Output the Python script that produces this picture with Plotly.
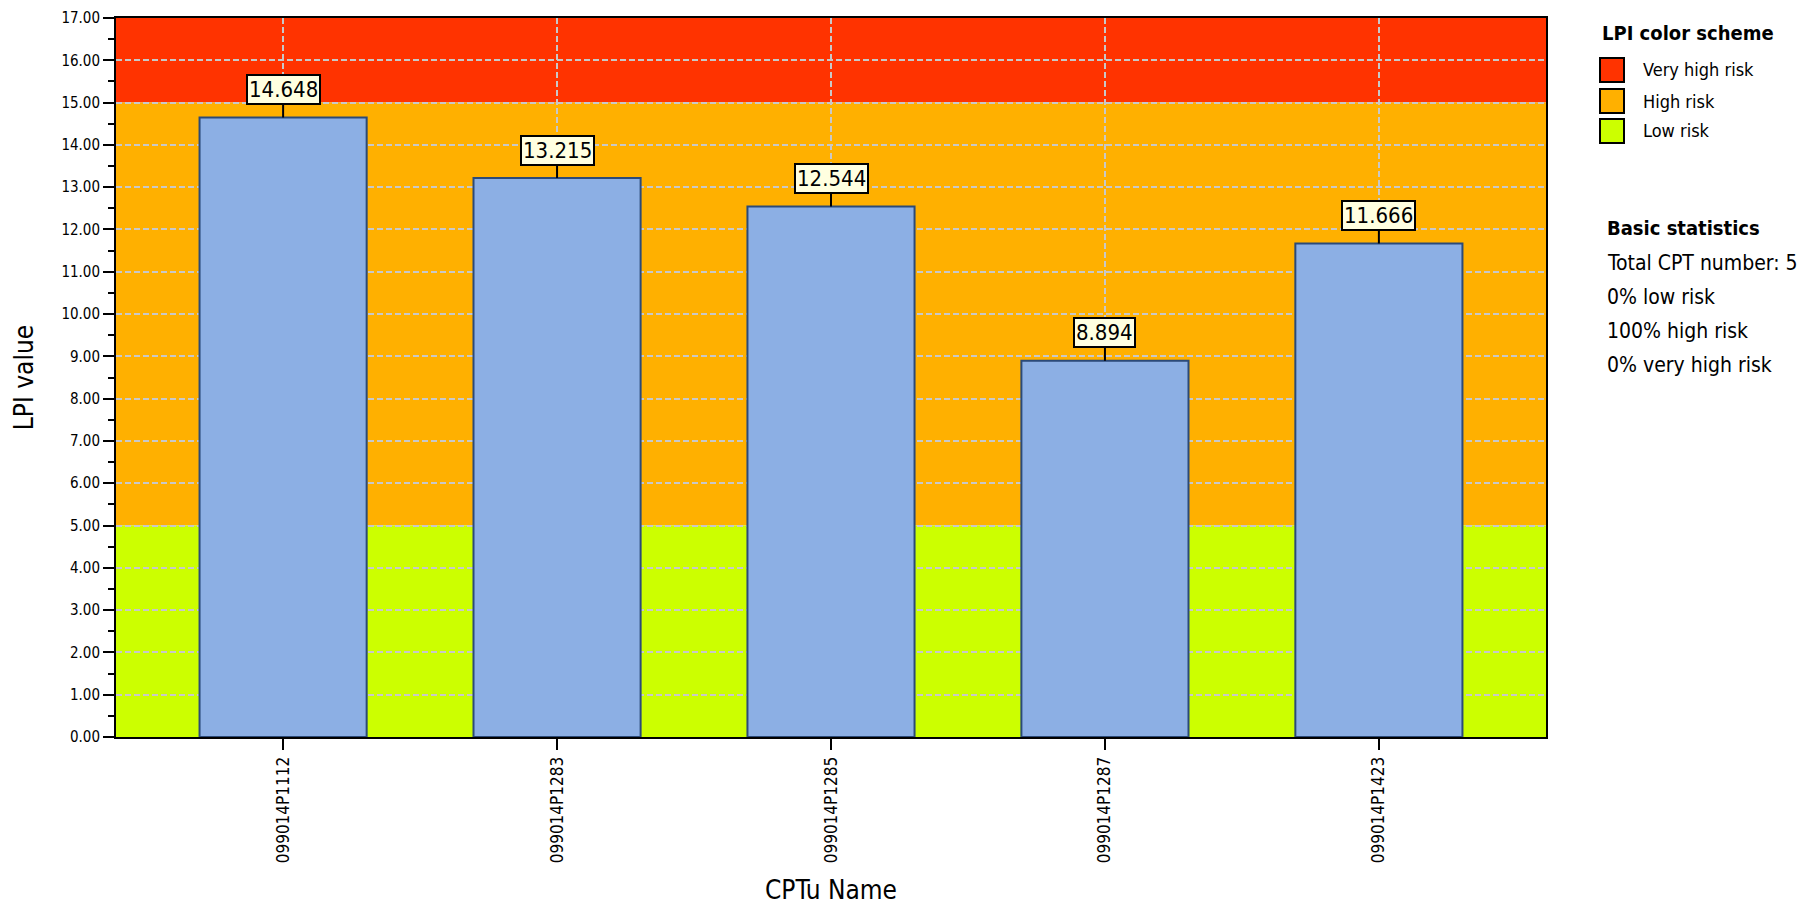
import plotly.graph_objects as go

# ---------------- data ----------------
cpt_names = ["099014P1112", "099014P1283", "099014P1285", "099014P1287", "099014P1423"]
lpi_values = [14.648, 13.215, 12.544, 8.894, 11.666]

zone_labels = ["Very high risk", "High risk", "Low risk"]
zone_colors = ["#ff3300", "#ffb000", "#ccff00"]
zone_lower = [15, 5, 0]
zone_upper = [17, 15, 5]

stats_title = "Basic statistics"
stats_lines = ["Total CPT number: 5", "0% low risk", "100% high risk", "0% very high risk"]
legend_title = "LPI color scheme"

y_range = [0, 17]

# ---------------- layout geometry (page pixels) ----------------
OFF = 8                      # default body margin of the html page
W, H = 1820 - OFF, 912 - OFF
PL, PR, PT, PB = 116, 1546, 18, 737   # plot area in page pixels
FONT = "DejaVu Sans Condensed, Liberation Sans, sans-serif"


def px_x(px):
    return (px - PL) / (PR - PL)


def px_y(py):
    return (PB - py) / (PB - PT)


fig = go.Figure()

fig.add_trace(go.Bar(
    x=cpt_names, y=lpi_values, width=0.61,
    marker=dict(color="#8cafe4", line=dict(color="#2b4a78", width=2)),
    showlegend=False, hoverinfo="x+y",
))

shapes = []
for lo, hi, col in zip(zone_lower, zone_upper, zone_colors):
    shapes.append(dict(type="rect", xref="paper", yref="y", x0=0, x1=1, y0=lo, y1=hi,
                       fillcolor=col, line=dict(width=0), layer="below"))

annotations = []
for name, v in zip(cpt_names, lpi_values):
    annotations.append(dict(
        x=name, y=v, xref="x", yref="y", text=f"{v:.3f}",
        showarrow=True, arrowhead=0, arrowwidth=2, arrowcolor="black", standoff=0,
        ax=0, ay=-28,
        font=dict(family=FONT, size=22, color="black"),
        bgcolor="#ffffe0", bordercolor="black", borderwidth=2, borderpad=1,
    ))

annotations.append(dict(xref="paper", yref="paper", x=px_x(1600), y=px_y(33),
                        xanchor="left", yanchor="middle", showarrow=False,
                        text=f"<b>{legend_title}</b>",
                        font=dict(family=FONT, size=20, color="black")))
item_y = [70, 101, 131]
for lab, col, yy in zip(zone_labels, zone_colors, item_y):
    shapes.append(dict(type="rect", xref="paper", yref="paper",
                       x0=px_x(1600), x1=px_x(1624), y0=px_y(yy + 12), y1=px_y(yy - 12),
                       fillcolor=col, line=dict(color="black", width=2)))
    annotations.append(dict(xref="paper", yref="paper", x=px_x(1641), y=px_y(yy),
                            xanchor="left", yanchor="middle", showarrow=False, text=lab,
                            font=dict(family=FONT, size=18, color="black")))

annotations.append(dict(xref="paper", yref="paper", x=px_x(1605), y=px_y(228),
                        xanchor="left", yanchor="middle", showarrow=False,
                        text=f"<b>{stats_title}</b>",
                        font=dict(family=FONT, size=20, color="black")))
for i, line in enumerate(stats_lines):
    annotations.append(dict(xref="paper", yref="paper", x=px_x(1605), y=px_y(263 + 34 * i),
                            xanchor="left", yanchor="middle", showarrow=False, text=line,
                            font=dict(family=FONT, size=21, color="black")))

grid_dash = "6px,3px"
fig.update_layout(
    width=W, height=H,
    margin=dict(l=PL - OFF, r=W - (PR - OFF), t=PT - OFF, b=H - (PB - OFF), autoexpand=False),
    paper_bgcolor="white", plot_bgcolor="white",
    font=dict(family=FONT, color="black"),
    shapes=shapes, annotations=annotations,
    xaxis=dict(
        type="category", range=[-0.61, 4.61],
        showline=True, linecolor="black", linewidth=2, mirror=True,
        ticks="outside", ticklen=11, tickwidth=2, tickcolor="black",
        tickangle=-90, tickfont=dict(family=FONT, size=17),
        ticklabeloverflow="allow",
        showgrid=True, gridcolor="#c8c8c8", gridwidth=2, griddash=grid_dash,
        title=dict(text="CPTu Name", font=dict(family=FONT, size=26), standoff=18),
    ),
    yaxis=dict(
        range=y_range, dtick=1, tick0=0, tickformat=".2f",
        showline=True, linecolor="black", linewidth=2, mirror=True,
        ticks="outside", ticklen=11, tickwidth=2, tickcolor="black",
        tickfont=dict(family=FONT, size=15),
        ticklabeloverflow="allow",
        minor=dict(dtick=0.5, ticks="outside", ticklen=6, tickwidth=2, tickcolor="black",
                   showgrid=False),
        showgrid=True, gridcolor="#c8c8c8", gridwidth=2, griddash=grid_dash,
        zeroline=False,
        title=dict(text="LPI value", font=dict(family=FONT, size=26), standoff=20),
    ),
)

fig.write_html("out.html")
